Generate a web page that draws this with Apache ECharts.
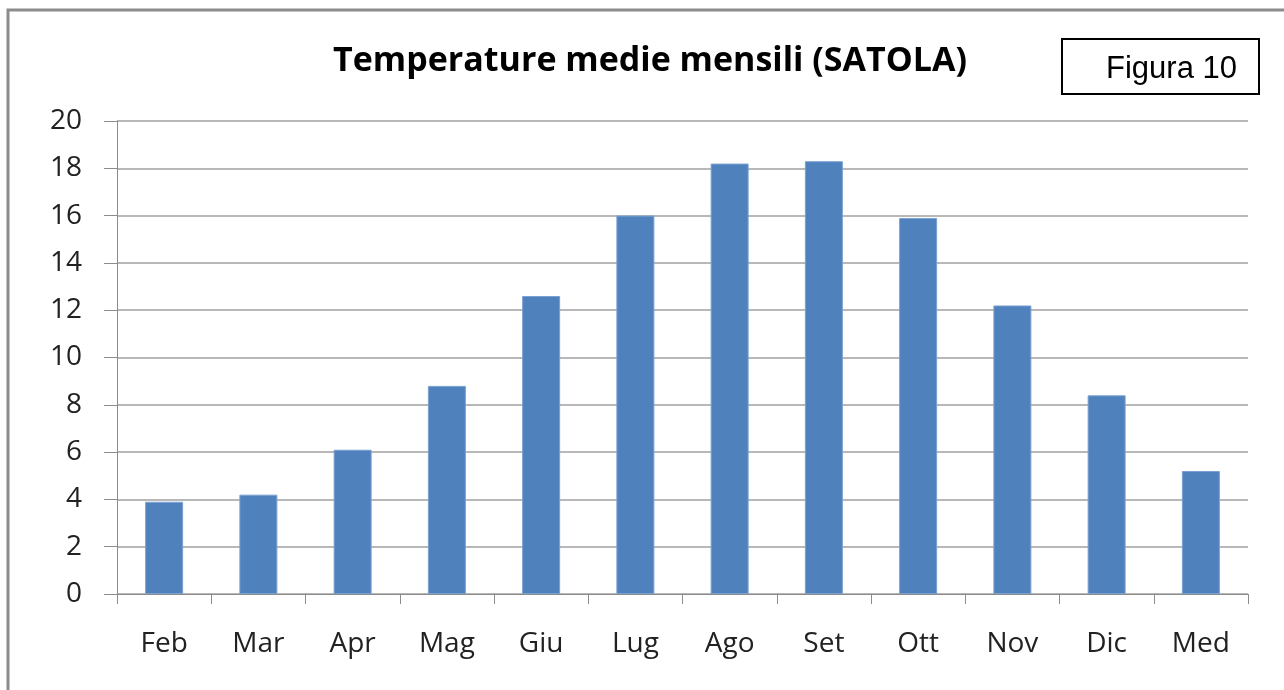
<!DOCTYPE html>
<html>
<head>
<meta charset="utf-8">
<script src="https://cdn.jsdelivr.net/npm/echarts@6/dist/echarts.min.js"></script>
<style>
  html, body { margin: 0; padding: 0; background: #fff; }
  #chart { width: 1284px; height: 690px; }
</style>
</head>
<body>
<div id="chart"></div>
<script>
// mesi e temperature medie (Satola)
const months = ['Feb', 'Mar', 'Apr', 'Mag', 'Giu', 'Lug', 'Ago', 'Set', 'Ott', 'Nov', 'Dic', 'Med'];
const temps = [3.9, 4.2, 6.1, 8.8, 12.6, 16.0, 18.2, 18.3, 15.9, 12.2, 8.4, 5.2];
const yTicks = [0, 2, 4, 6, 8, 10, 12, 14, 16, 18, 20];

const chart = echarts.init(document.getElementById('chart'));

chart.setOption({
  animation: false,
  backgroundColor: '#fff',
  title: {
    text: 'Temperature medie mensili (SATOLA)',
    left: 645,
    top: 39,
    textAlign: 'center',
    textStyle: {
      fontFamily: 'Open Sans',
      fontWeight: 'bold',
      fontSize: 34,
      color: '#000'
    }
  },
  graphic: [
    {
      type: 'rect',
      shape: { x: 8, y: 10, width: 1290, height: 700 },
      style: { fill: 'none', stroke: '#8c8c8c', lineWidth: 3 },
      silent: true
    },
    {
      type: 'rect',
      shape: { x: 1062, y: 39, width: 197, height: 55 },
      style: { fill: '#fff', stroke: '#000', lineWidth: 2 }
    },
    {
      type: 'text',
      x: 1237,
      y: 69,
      style: {
        text: 'Figura 10',
        font: '31px "Liberation Sans", Arial, sans-serif',
        fill: '#000',
        align: 'right',
        verticalAlign: 'middle'
      }
    }
  ],
  grid: {
    left: 117,
    right: 36,
    top: 121,
    bottom: 96
  },
  xAxis: {
    type: 'category',
    data: months,
    boundaryGap: true,
    axisLine: { lineStyle: { color: '#8c8c8c', width: 1 } },
    axisTick: { show: true, length: 10, lineStyle: { color: '#8c8c8c' } },
    axisLabel: {
      margin: 36,
      fontFamily: 'Open Sans',
      fontSize: 28,
      color: '#222'
    }
  },
  yAxis: {
    type: 'value',
    min: yTicks[0],
    max: yTicks[yTicks.length - 1],
    interval: 2,
    axisLine: { show: true, lineStyle: { color: '#8c8c8c', width: 1 } },
    axisTick: { show: true, length: 13, lineStyle: { color: '#8c8c8c' } },
    splitLine: { lineStyle: { color: '#a0a0a0', width: 1.5 } },
    axisLabel: {
      margin: 35,
      fontFamily: 'Open Sans',
      fontSize: 28,
      color: '#222'
    }
  },
  series: [
    {
      type: 'bar',
      data: temps,
      barWidth: 38,
      itemStyle: {
        color: '#4f81bd',
        borderColor: '#7ba1d0',
        borderWidth: 1
      }
    }
  ]
});
</script>
</body>
</html>
